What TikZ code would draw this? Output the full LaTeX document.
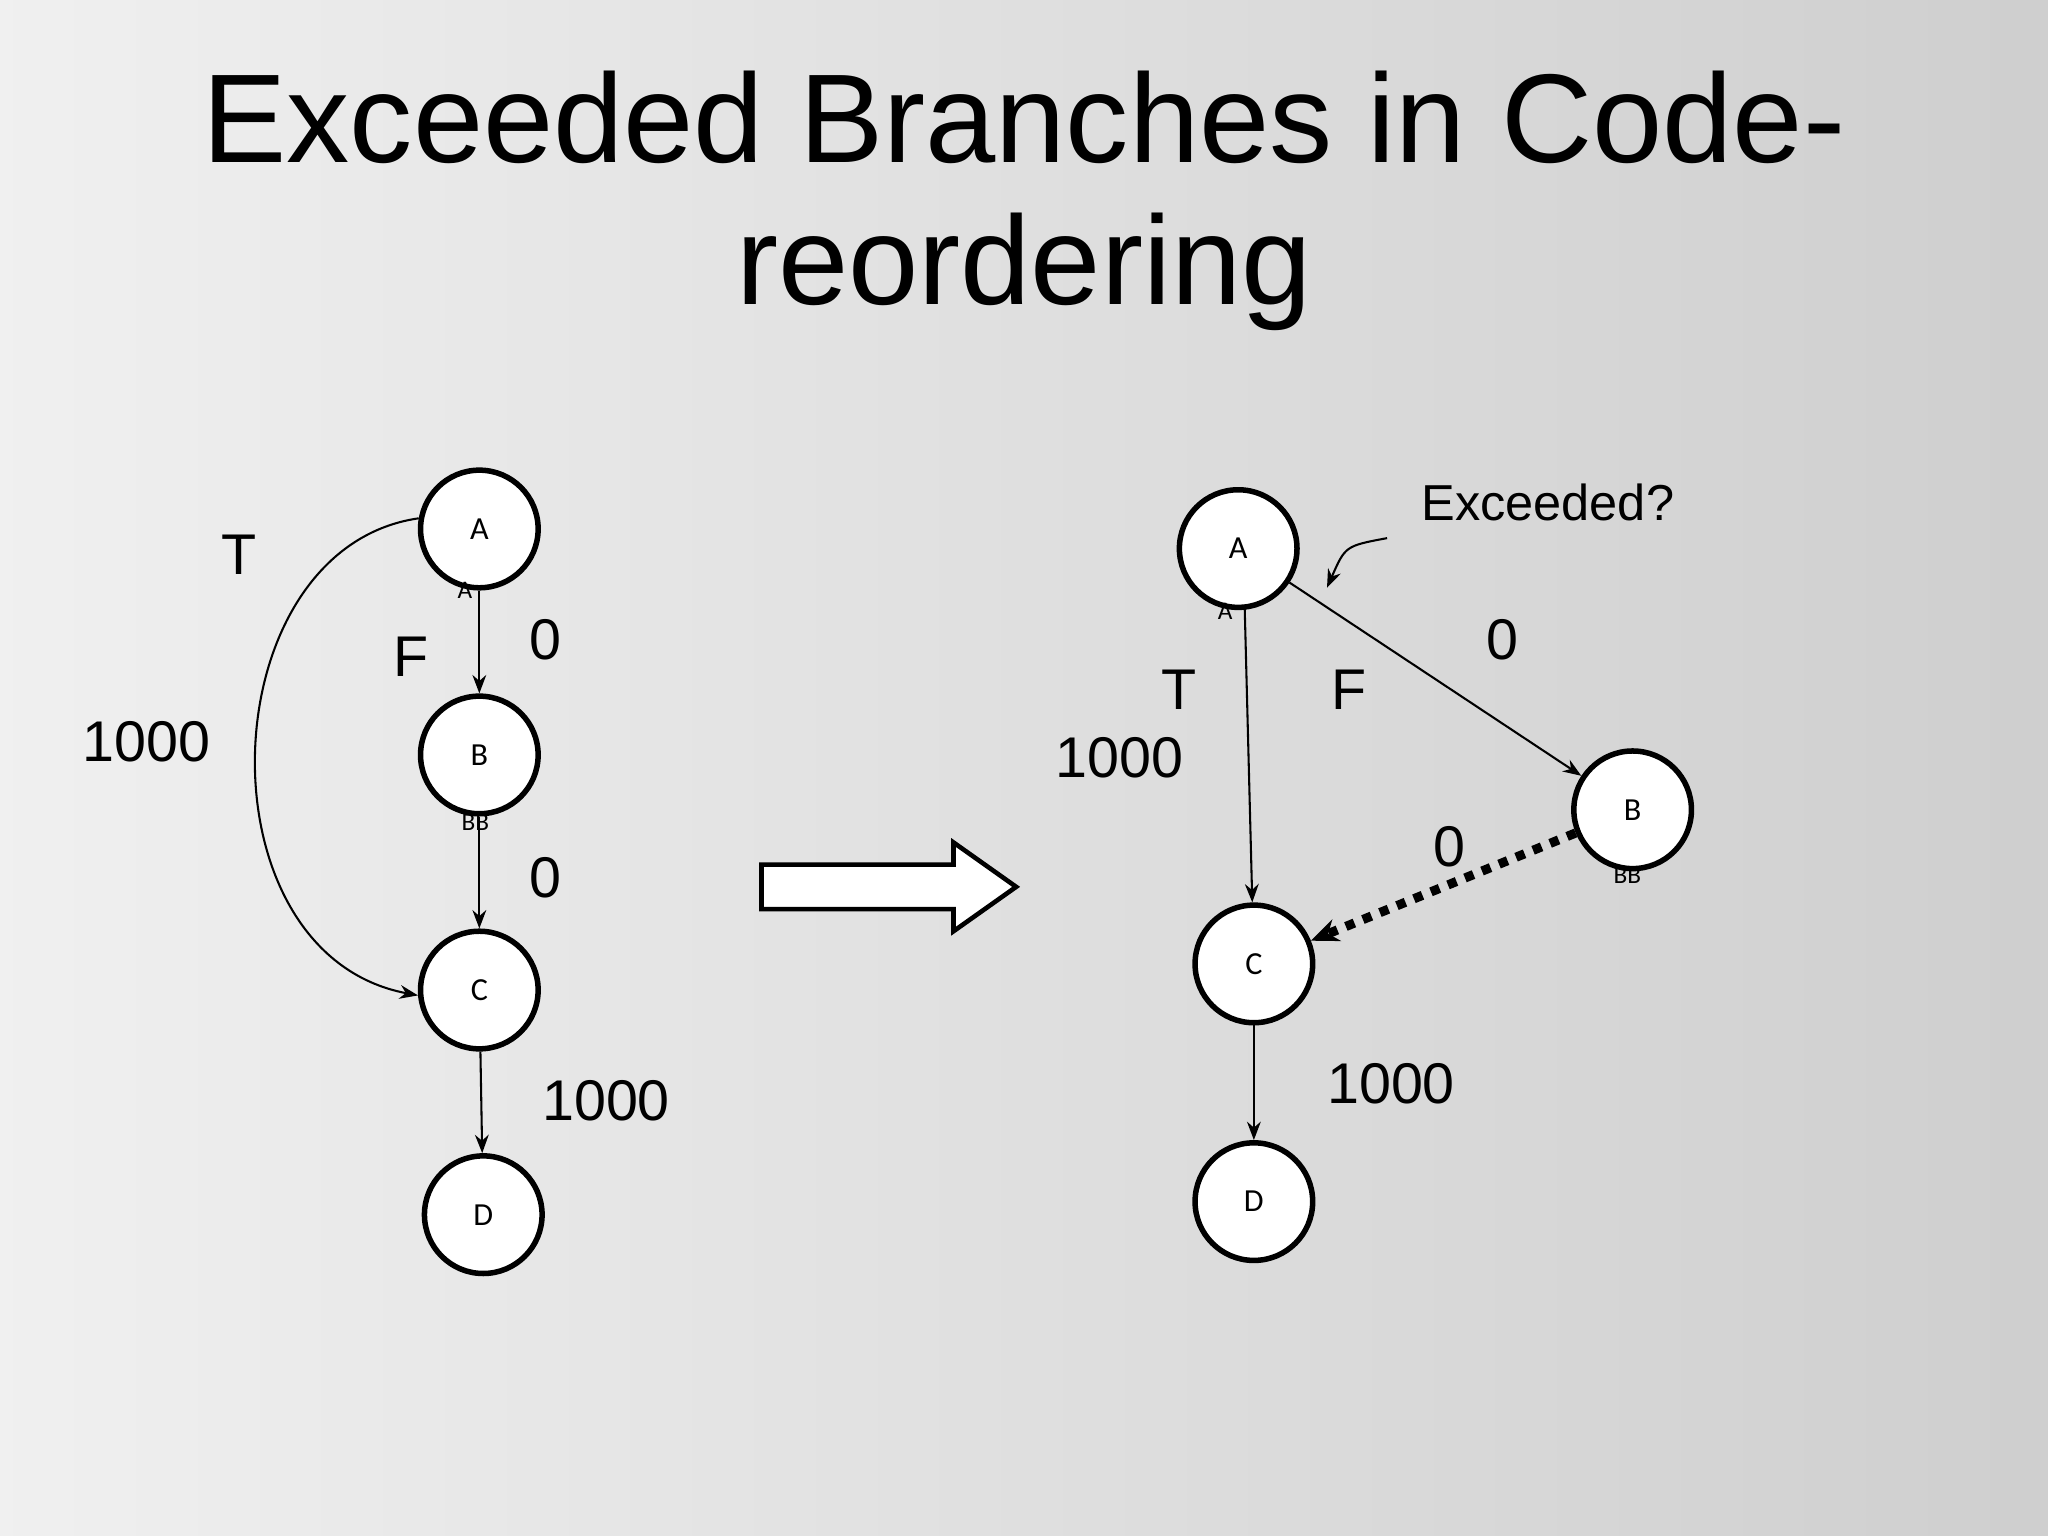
\documentclass[tikz,border=0pt]{standalone}
\usepackage{fontspec}
\setmainfont{Liberation Sans}
\newfontfamily\smallf{Carlito}
\usetikzlibrary{arrows.meta}
\begin{document}
\begin{tikzpicture}[x=0.01cm,y=-0.01cm,
  bb/.style={circle,draw,line width=1.2pt,fill=white,minimum size=0.9cm,inner sep=0pt,font=\smallf\fontsize{7}{7}\selectfont},
  lab/.style={font=\fontsize{12.5}{12.5}\selectfont},
  tiny/.style={font=\smallf\fontsize{5.5}{5.5}\selectfont},
  ed/.style={-{Stealth[length=4pt,width=3pt]},line width=0.45pt}]
\useasboundingbox (0,0) rectangle (1568,1176);
\shade[left color=gray!12,right color=gray!38] (0,0) rectangle (1568,1176);
\node[font=\fontsize{27.5}{27.5}\selectfont] (t1) at (784,90) {Exceeded Branches in Code-};
\node[font=\fontsize{27.5}{27.5}\selectfont] (t2) at (784,208) {reordering};
% left
\node[bb] (A) at (367,405) {A};
\node[bb] (B) at (367,578) {B};
\node[bb] (C) at (367,758) {C};
\node[bb] (D) at (370,930) {D};
\node[tiny] (a1) at (356,452) {A};
\node[tiny] (b1) at (364,630) {BB};
\draw[ed] (A) -- (B);
\draw[ed] (B) -- (C);
\draw[ed] (C) -- (D);
\draw[ed] (A.170) .. controls (160,420) and (150,730) .. (C.185);
\node[lab] (lT) at (183,425) {T};
\node[lab] (lF) at (315,503) {F};
\node[lab] (l0a) at (418,490) {0};
\node[lab] (l1a) at (112,568) {1000};
\node[lab] (l0b) at (418,672) {0};
\node[lab] (l1b) at (464,843) {1000};
% big arrow
\draw[line width=1pt,fill=white] (583,662) -- (730,662) -- (730,645) -- (778,679) -- (730,713) -- (730,696) -- (583,696) -- cycle;
% right
\node[bb] (A2) at (948,420) {A};
\node[bb] (B2) at (1250,620) {B};
\node[bb] (C2) at (960,738) {C};
\node[bb] (D2) at (960,920) {D};
\node[tiny] (a2) at (938,468) {A};
\node[tiny] (b2) at (1246,670) {BB};
\draw[ed] (953,466) -- (C2);
\draw[ed] (A2) -- (B2);
\draw[-{Stealth[length=6pt,width=5pt]},line width=2pt,dotted] (B2) -- (C2);
\draw[ed] (C2) -- (D2);
\node[font=\fontsize{11}{11}\selectfont] (ex) at (1185,385) {Exceeded?};
\coordinate (ep) at (1016,450);
\draw[ed] (1062,412) .. controls (1030,418) .. (ep);
\node[lab] (r0a) at (1150,490) {0};
\node[lab] (rT) at (903,528) {T};
\node[lab] (rF) at (1033,528) {F};
\node[lab] (r1a) at (857,580) {1000};
\node[lab] (r0b) at (1110,648) {0};
\node[lab] (r1b) at (1065,830) {1000};
\end{tikzpicture}
\end{document}
